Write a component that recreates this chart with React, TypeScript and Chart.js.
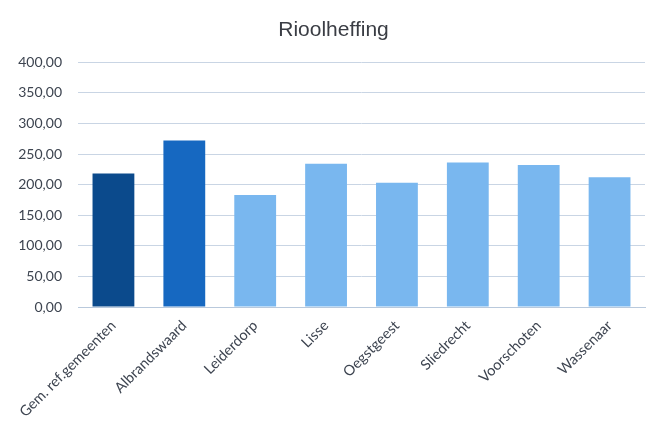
import React, { useEffect, useRef } from "react";
import { Chart, registerables } from "chart.js";

Chart.register(...registerables);

const categories = [
  "Gem. ref.gemeenten",
  "Albrandswaard",
  "Leiderdorp",
  "Lisse",
  "Oegstgeest",
  "Sliedrecht",
  "Voorschoten",
  "Wassenaar",
];
const values = [218, 272, 183, 234, 203, 236, 232, 212];
const barColors = [
  "#0b4a8c",
  "#1668c1",
  "#79b7ef",
  "#79b7ef",
  "#79b7ef",
  "#79b7ef",
  "#79b7ef",
  "#79b7ef",
];
const chartTitle = "Rioolheffing";
const yMin = 0;
const yMax = 400;
const yStep = 50;

export default function App() {
  const ref = useRef<HTMLCanvasElement | null>(null);
  useEffect(() => {
    if (!ref.current) return;
    const chart = new Chart(ref.current, {
      type: "bar",
      data: {
        labels: categories,
        datasets: [
          {
            data: values,
            backgroundColor: barColors,
            borderWidth: 0,
            barPercentage: 0.59,
            categoryPercentage: 1,
          },
        ],
      },
      options: {
        responsive: false,
        animation: false,
        layout: { padding: { left: 10, right: 0, top: 0, bottom: 0 } },
        plugins: {
          legend: { display: false },
          tooltip: { enabled: false },
          title: {
            display: true,
            text: chartTitle,
            color: "#3a3d44",
            font: { family: "'Liberation Sans', Arial, sans-serif", size: 21, weight: "normal" },
            padding: { top: 18, bottom: 19 },
          },
        },
        scales: {
          x: {
            grid: { display: false, drawTicks: false },
            border: { display: true, color: "#b9c9dc", width: 1 },
            ticks: {
              minRotation: 45,
              maxRotation: 45,
              padding: 10,
              color: "#3d4450",
              font: { family: "Lato, 'Open Sans', sans-serif", size: 14.5 },
            },
            afterFit: (s: any) => {
              s.height = 125;
            },
          },
          y: {
            min: yMin,
            max: yMax,
            grid: { color: "#c9d5e4", lineWidth: 1, drawTicks: false },
            border: { display: false },
            ticks: {
              stepSize: yStep,
              padding: 16,
              color: "#3d4450",
              font: { family: "Lato, 'Open Sans', sans-serif", size: 14 },
              callback: (v: any) => Number(v).toFixed(2).replace(".", ","),
            },
            afterFit: (s: any) => {
              s.width = 68;
            },
          },
          yRight: {
            position: "right",
            display: true,
            grid: { display: false, drawTicks: false },
            border: { display: false },
            ticks: { display: false },
            afterFit: (s: any) => {
              s.width = 12;
            },
          },
        },
      },
    });
    return () => chart.destroy();
  }, []);
  return (
    <div style={{ position: "fixed", left: 0, top: 0, width: 657, height: 432, background: "#fff" }}>
      <canvas ref={ref} width={657} height={432} style={{ display: "block" }} />
    </div>
  );
}
